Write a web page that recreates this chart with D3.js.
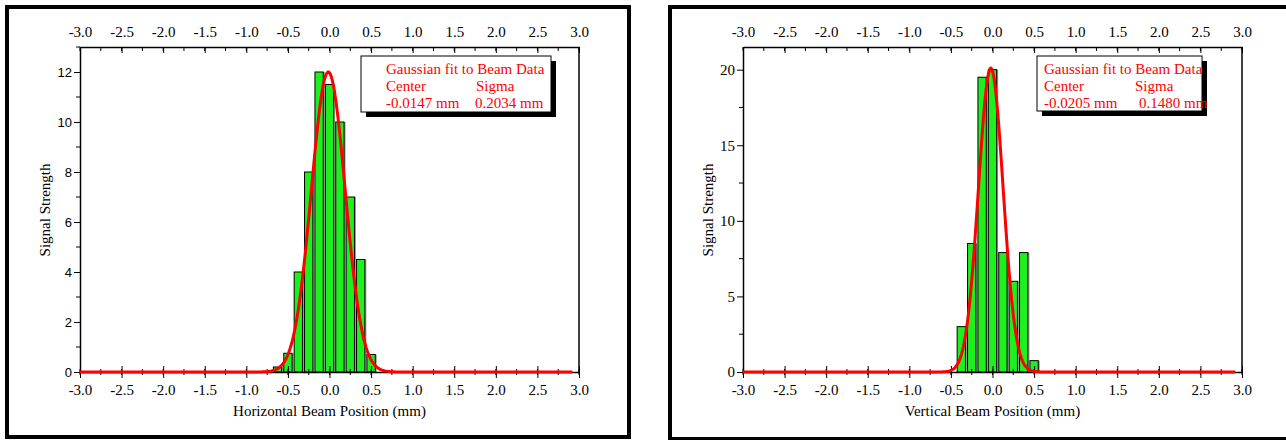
<!DOCTYPE html>
<html>
<head>
<meta charset="utf-8">
<script src="https://cdn.jsdelivr.net/npm/d3@7"></script>
<style>
  body { margin: 0; background: #fff; }
  svg { display: block; }
</style>
</head>
<body>
<div id="chart"></div>
<script>
// bin centres (mm) and heights
const hBins   = [-0.625, -0.5, -0.375, -0.25, -0.125, 0, 0.125, 0.25, 0.375, 0.5];
const hSignal = [0.2, 0.75, 4, 8, 12, 11.5, 10, 7, 4.5, 0.7];
const vBins   = [-0.375, -0.25, -0.125, 0, 0.125, 0.25, 0.375, 0.5];
const vSignal = [3, 8.5, 19.5, 20, 7.9, 6, 7.9, 0.75];

// fit parameters (amplitude, centre, sigma)
const hFit = [12, -0.0147, 0.2034];
const vFit = [20.1, -0.0205, 0.1480];

const xTicks = [-3, -2.5, -2, -1.5, -1, -0.5, 0, 0.5, 1, 1.5, 2, 2.5, 3];
const hYTicks = [0, 2, 4, 6, 8, 10, 12];
const vYTicks = [0, 5, 10, 15, 20];

const svg = d3.select("#chart").append("svg")
  .attr("width", 1286)
  .attr("height", 440);

const serif = "'Liberation Serif', 'Times New Roman', serif";
const sans = "'Liberation Sans', Arial, sans-serif";
// plain hyphen instead of d3's unicode minus
const fmt = d => d.toFixed(1);

function drawPanel(opt) {
  let x = d3.scaleLinear().domain([-3, 3]).range([opt.left, opt.left + 499]);
  let y = d3.scaleLinear().domain([0, opt.yMax]).range([372, 47]);

  // frame
  svg.append("rect")
    .attr("x", opt.frame[0]).attr("y", 7)
    .attr("width", opt.frame[1]).attr("height", opt.frame[2])
    .attr("fill", "none").attr("stroke", "#000").attr("stroke-width", 4);

  let g = svg.append("g");

  // bars (grey shadow first, then green with black outline)
  let bw = x(0.1) - x(0);
  g.selectAll(".shadow").data(opt.bins).enter().append("rect")
    .attr("x", (d, i) => x(d) - bw / 2 + 1.5)
    .attr("y", (d, i) => y(opt.signal[i]))
    .attr("width", bw)
    .attr("height", (d, i) => y(0) - y(opt.signal[i]))
    .attr("fill", "#999");
  g.selectAll(".bar").data(opt.bins).enter().append("rect")
    .attr("x", (d, i) => x(d) - bw / 2)
    .attr("y", (d, i) => y(opt.signal[i]))
    .attr("width", bw)
    .attr("height", (d, i) => y(0) - y(opt.signal[i]))
    .attr("fill", "#1ef01e")
    .attr("stroke", "#000").attr("stroke-width", 1);

  // axes
  let minor = d3.range(-3, 3.001, 0.25);
  let bottom = d3.axisBottom(x).tickValues(xTicks).tickFormat(fmt)
    .tickSize(6).tickSizeOuter(0).tickPadding(6);
  let gb = g.append("g").attr("transform", "translate(0,372)").call(bottom);
  gb.selectAll(".tick line").attr("y1", -6);
  gb.selectAll(".minor").data(minor).enter().append("line")
    .attr("x1", d => x(d)).attr("x2", d => x(d))
    .attr("y1", -3).attr("y2", 3).attr("stroke", "#000");

  let top = d3.axisTop(x).tickValues(xTicks).tickFormat(fmt)
    .tickSize(-6).tickSizeOuter(0).tickPadding(10);
  let gt = g.append("g").attr("transform", "translate(0,47)").call(top);
  gt.selectAll(".minor").data(minor).enter().append("line")
    .attr("x1", d => x(d)).attr("x2", d => x(d))
    .attr("y1", 0).attr("y2", 4).attr("stroke", "#000");

  let left = d3.axisLeft(y).tickValues(opt.yTicks).tickSize(6).tickSizeOuter(0).tickPadding(2);
  let gl = g.append("g").attr("transform", "translate(" + opt.left + ",0)").call(left);
  gl.selectAll(".minor").data(opt.yMinor).enter().append("line")
    .attr("x1", -4).attr("x2", 0)
    .attr("y1", d => y(d)).attr("y2", d => y(d)).attr("stroke", "#000");
  gl.selectAll("text").style("font-family", opt.yFont).style("font-size", opt.yFontSize);

  g.append("line")
    .attr("x1", x(3)).attr("x2", x(3)).attr("y1", 47).attr("y2", 372)
    .attr("stroke", "#000").attr("stroke-width", 1.5);

  [gb, gt].forEach(a => a.selectAll("text").style("font-family", serif).style("font-size", "15px").attr("fill", "#000"));
  [gb, gt, gl].forEach(a => {
    a.select(".domain").attr("stroke-width", 1.5);
    a.selectAll(".tick line").attr("stroke", "#000");
  });

  // gaussian fit curve
  let fit = opt.fit;
  let pts = d3.range(-3, 2.93, 0.01).map(v => [v, fit[0] * Math.exp(-Math.pow(v - fit[1], 2) / (2 * fit[2] * fit[2]))]);
  g.append("path").datum(pts)
    .attr("d", d3.line().x(d => x(d[0])).y(d => y(d[1])))
    .attr("fill", "none").attr("stroke", "#f00").attr("stroke-width", 3);

  // axis titles
  g.append("text")
    .attr("x", x(0)).attr("y", 416).attr("text-anchor", "middle")
    .style("font-family", serif).style("font-size", "15px")
    .text(opt.xTitle);
  g.append("text")
    .attr("transform", "translate(" + (opt.left - 30) + ",210) rotate(-90)")
    .attr("text-anchor", "middle")
    .style("font-family", serif).style("font-size", "15px")
    .text("Signal Strength");

  // legend box
  let lb = opt.legend;
  g.append("rect").attr("x", lb[0] + 5).attr("y", lb[1] + 5).attr("width", lb[2]).attr("height", lb[3]).attr("fill", "#000");
  g.append("rect").attr("x", lb[0]).attr("y", lb[1]).attr("width", lb[2]).attr("height", lb[3])
    .attr("fill", "#fff").attr("stroke", "#000").attr("stroke-width", 1);
  let lt = g.append("g").style("font-family", serif).style("font-size", "15px").attr("fill", "#f00");
  lt.append("text").attr("x", lb[4]).attr("y", lb[1] + 18).text("Gaussian fit to Beam Data");
  lt.append("text").attr("x", lb[4]).attr("y", lb[1] + 35).text("Center");
  lt.append("text").attr("x", lb[5]).attr("y", lb[1] + 35).text("Sigma");
  lt.append("text").attr("x", lb[4]).attr("y", lb[1] + 52).text(fit[1].toFixed(4) + " mm");
  lt.append("text").attr("x", lb[6]).attr("y", lb[1] + 52).text(fit[2].toFixed(4) + " mm");
}

drawPanel({
  left: 80, frame: [7, 622, 430], yMax: 13,
  bins: hBins, signal: hSignal, fit: hFit,
  yTicks: hYTicks, yMinor: [1, 3, 5, 7, 9, 11, 13],
  yFont: sans, yFontSize: "13px",
  xTitle: "Horizontal Beam Position (mm)",
  legend: [361, 56, 190, 56, 386, 476, 475]
});

drawPanel({
  left: 743, frame: [670, 640, 432], yMax: 21.5,
  bins: vBins, signal: vSignal, fit: vFit,
  yTicks: vYTicks, yMinor: [2.5, 7.5, 12.5, 17.5],
  yFont: serif, yFontSize: "15px",
  xTitle: "Vertical Beam Position (mm)",
  legend: [1037, 56, 165, 55, 1044, 1135, 1139]
});
</script>
</body>
</html>
